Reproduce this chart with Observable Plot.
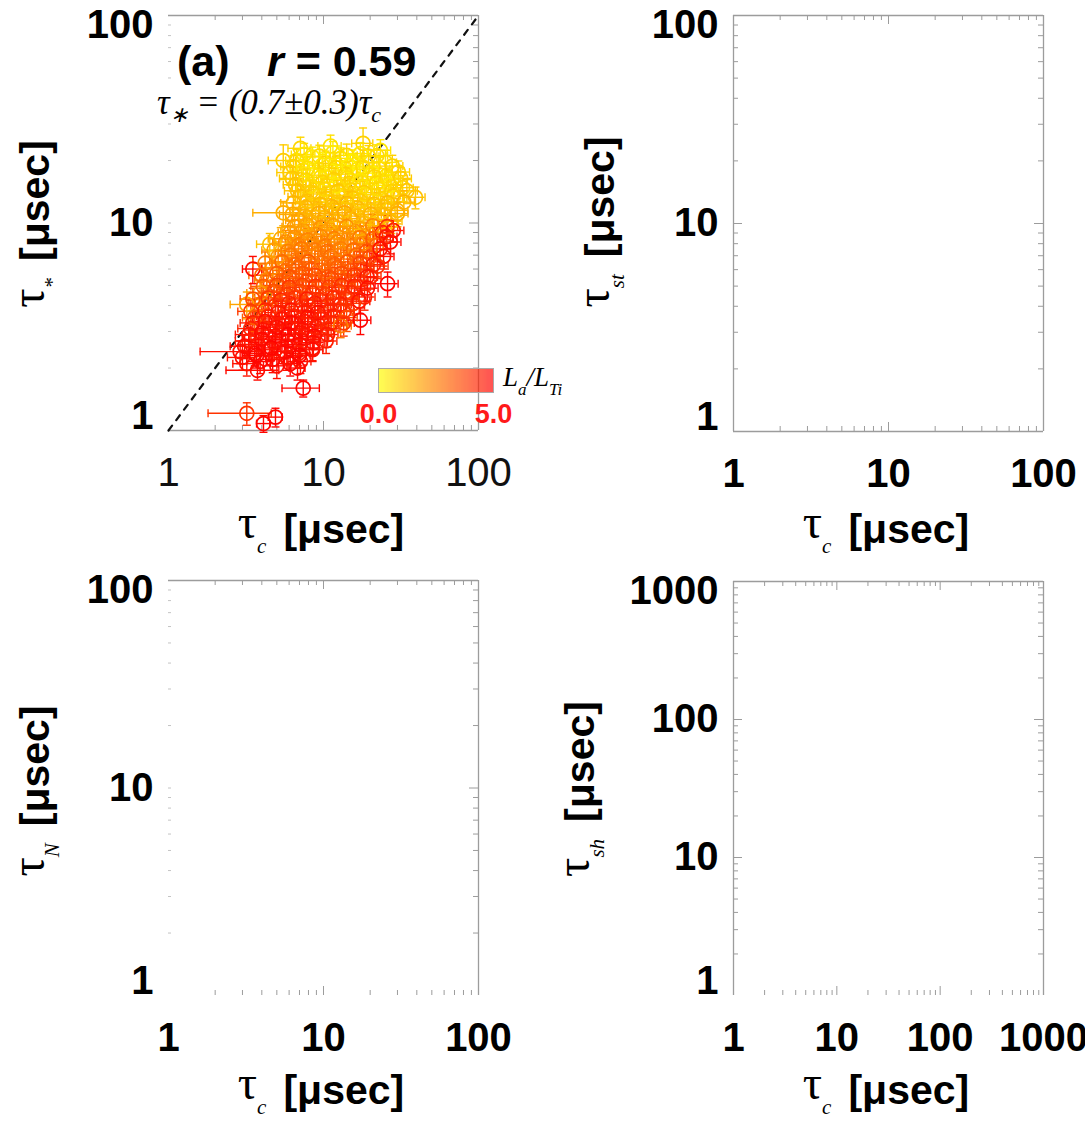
<!DOCTYPE html>
<html><head><meta charset="utf-8">
<script src="https://cdn.jsdelivr.net/npm/d3@7"></script>
<script src="https://cdn.jsdelivr.net/npm/@observablehq/plot@0.6"></script>
<style>
body{margin:0;background:#fff;}
#root{position:relative;width:1085px;height:1121px;overflow:hidden;background:#fff;font-family:"Liberation Sans",Arial,sans-serif;}
.abs{position:absolute;white-space:nowrap;line-height:1;color:#000;}
.ttl{font-weight:bold;font-size:41px;}
.tau{font-family:"Liberation Serif",serif;font-weight:normal;font-size:48px;position:relative;top:-5px;}
.sub{font-family:"Liberation Serif",serif;font-style:italic;font-weight:normal;font-size:21px;position:relative;top:10px;}
.br{margin-left:17px;}
.eq{font-family:"Liberation Serif",serif;font-style:italic;font-size:35px;}
.eq .s{font-size:22px;position:relative;top:8px;}
.lab{font-family:"Liberation Serif",serif;font-style:italic;font-size:27px;}
.lab .s{font-size:17px;position:relative;top:9px;}
</style></head>
<body><div id="root"></div>
<script>
// ---------------- data (panel a): tau_c, tau_*, L_a/L_Ti, errors ----------------
const tauC = [
7.1, 11.1, 18, 23.3, 5.5,
6.7, 8.5, 10.3, 12.9, 15.4, 19.5, 25.1,
6.1, 7.4, 9.3, 11.3, 13.9, 16.6, 20.7, 25.5, 30.4,
6.6, 8.1, 9.9, 12.1, 14.7, 17.8, 22.0, 27.0, 32.4,
7.1, 8.6, 10.4, 12.7, 15.4, 18.9, 23.3, 28.2, 39.2,
5.5, 7.7, 9.3, 11.3, 13.7, 16.6, 20.1, 24.7, 29.9,
6.9, 8.4, 10.2, 12.3, 14.9, 18.1, 22.3, 27.4,
6.1, 7.4, 9.0, 10.9, 13.3, 16.1, 19.5, 24.0, 28.2,
4.5, 5.7, 6.9, 8.4, 10.2, 12.3, 14.9, 18.1, 22.0, 27.0,
5.1, 6.2, 7.5, 9.2, 11.1, 13.5, 16.3, 19.8, 24.4,
3.5, 4.7, 5.7, 6.9, 8.4, 10.2, 12.3, 14.9, 18.1, 22.3,
4.3, 5.2, 6.3, 7.7, 9.3, 11.3, 13.7, 16.6, 20.1, 25.9,
3.9, 4.8, 5.8, 7.0, 8.5, 10.3, 12.5, 15.1, 18.4,
3.2, 4.0, 4.9, 6.0, 7.2, 8.8, 10.6, 12.9, 15.6,
3.6, 4.4, 5.4, 6.5, 7.9, 9.6, 11.6, 14.1, 17.3,
3.4, 4.1, 5.0, 6.0, 7.3, 8.9, 10.8, 12.9,
3.3, 4.0, 4.8, 5.9, 7.1, 8.6, 10.4,
2.9, 3.6, 4.5, 5.6, 6.9, 8.5,
3.2, 3.9, 5.0, 6.1, 7.1,
3.75, 6.8, 7.4, 3.2, 4.9, 4.1,
7.5, 9.4, 11.5, 14.1, 17.3, 22.1,
6.4, 7.9, 9.8, 12.0, 14.6, 18.0, 22.8, 27.8,
6.3, 7.7, 9.6, 11.7, 14.3, 17.2, 21.3, 26.2, 31.5,
6.8, 8.3, 10.1, 12.4, 15.0, 18.3, 22.6, 27.6, 34.5,
6.4, 7.9, 9.5, 11.6, 14.2, 17.2, 21.2, 26.0, 33.0,
6.3, 7.6, 9.3, 11.3, 13.7, 16.6, 20.2, 24.8, 30.0,
6.5, 7.8, 9.6, 11.6, 14.1, 17.1, 20.8, 25.7,
5.3, 6.5, 7.9, 9.6, 11.7, 14.2, 17.2, 20.9, 25.5,
4.8, 5.9, 7.2, 8.8, 10.6, 12.9, 15.6, 19.0, 23.2,
4.2, 5.4, 6.6, 8.0, 9.8, 11.8, 14.3, 17.3, 21.0,
4.0, 5.0, 6.0, 7.3, 8.8, 10.7, 13.0, 15.8, 19.1,
4.1, 5.0, 6.0, 7.3, 8.9, 10.8, 13.1, 15.8, 19.2,
3.5, 4.4, 5.3, 6.5, 7.8, 9.5, 11.5, 13.9, 17.0,
3.4, 4.2, 5.1, 6.2, 7.5, 9.2, 11.1, 13.5,
3.5, 4.2, 5.2, 6.2, 7.6, 9.2, 11.2, 13.5,
3.3, 4.0, 4.9, 5.9, 7.2, 8.7, 10.6,
3.1, 3.8, 4.6, 5.7, 7.0, 8.5,
3.0, 3.7, 4.7, 5.8, 7.0
];
const tauStar = [
22.9, 23.5, 24.2, 22.4, 20.0,
20.0, 20.8, 19.4, 20.5, 19.8, 21.0, 19.6,
17.5, 18.0, 17.0, 17.8, 17.2, 18.2, 17.4, 16.9, 17.6,
15.3, 15.0, 15.7, 15.1, 15.5, 14.9, 15.6, 15.2, 14.8,
13.4, 13.8, 13.1, 13.6, 13.2, 13.7, 13.0, 13.5, 13.3,
11.2, 11.9, 11.5, 12.0, 11.6, 11.8, 11.4, 11.9, 11.5,
10.3, 10.1, 10.6, 10.2, 10.5, 10.0, 10.4, 10.2,
9.0, 9.2, 8.8, 9.3, 8.9, 9.1, 8.8, 9.0, 9.2,
7.9, 8.1, 7.8, 8.0, 7.7, 8.1, 7.9, 8.0, 7.8, 8.1,
6.9, 7.0, 6.8, 7.1, 6.9, 6.7, 7.0, 6.8, 6.9,
6.0, 6.1, 5.9, 6.1, 6.0, 5.8, 6.1, 5.9, 6.0, 6.2,
5.3, 5.2, 5.4, 5.2, 5.3, 5.4, 5.2, 5.3, 5.5, 5.1,
4.6, 4.7, 4.5, 4.7, 4.6, 4.5, 4.7, 4.6, 4.4,
4.05, 4.1, 4.0, 4.1, 3.95, 4.1, 4.0, 4.05, 4.1,
3.5, 3.55, 3.45, 3.55, 3.5, 3.45, 3.55, 3.5, 3.4,
3.1, 3.05, 3.15, 3.1, 3.05, 3.15, 3.1, 3.2,
2.7, 2.75, 2.65, 2.7, 2.75, 2.65, 2.7,
2.4, 2.35, 2.45, 2.4, 2.35, 2.45,
2.1, 2.15, 2.05, 2.1, 2.15,
1.95, 2.0, 1.6, 1.21, 1.16, 1.08,
21.4, 21.0, 21.8, 21.2, 21.6, 21.1,
18.7, 18.4, 19.0, 18.5, 18.9, 18.6, 18.3, 18.8,
16.4, 16.1, 16.6, 16.2, 16.5, 16.0, 16.7, 16.3, 16.4,
14.3, 14.1, 14.5, 14.2, 14.4, 14.0, 14.6, 14.2, 14.3,
12.5, 12.7, 12.3, 12.6, 12.4, 12.8, 12.3, 12.5, 12.6,
11.0, 10.8, 11.1, 10.9, 11.2, 10.8, 11.0, 10.9, 11.1,
9.6, 9.8, 9.5, 9.7, 9.6, 9.4, 9.7, 9.6,
8.4, 8.5, 8.3, 8.6, 8.4, 8.3, 8.5, 8.4, 8.6,
7.4, 7.3, 7.5, 7.4, 7.3, 7.5, 7.4, 7.3, 7.5,
6.4, 6.5, 6.3, 6.5, 6.4, 6.3, 6.5, 6.4, 6.3,
5.6, 5.7, 5.5, 5.7, 5.6, 5.5, 5.7, 5.6, 5.5,
4.95, 5.0, 4.9, 5.0, 4.95, 4.9, 5.0, 4.95, 4.85,
4.3, 4.35, 4.25, 4.35, 4.3, 4.25, 4.35, 4.3, 4.2,
3.75, 3.8, 3.7, 3.8, 3.75, 3.7, 3.8, 3.75,
3.3, 3.35, 3.25, 3.3, 3.35, 3.25, 3.3, 3.3,
2.9, 2.95, 2.85, 2.9, 2.95, 2.85, 2.9,
2.55, 2.6, 2.5, 2.55, 2.6, 2.5,
2.25, 2.3, 2.2, 2.25, 2.3
];
const ratio = [
0.8, 0.6, 0.9, 0.5, 1.0,
0.7, 0.4, 0.9, 0.6, 0.3, 0.8, 0.6,
1.0, 0.5, 0.8, 0.4, 0.9, 0.6, 0.3, 0.7, 0.8,
1.2, 0.7, 0.9, 0.5, 1.0, 0.6, 0.8, 0.4, 0.9,
1.3, 1.0, 1.1, 0.8, 1.2, 0.7, 0.9, 1.0, 1.2,
1.6, 1.4, 1.2, 1.5, 1.1, 1.3, 1.0, 1.2, 1.4,
1.8, 1.5, 1.7, 1.4, 1.6, 1.3, 1.5, 1.2,
1.9, 2.0, 2.2, 1.8, 2.0, 2.1, 1.9, 4.2, 4.6,
1.2, 2.3, 2.5, 2.2, 2.6, 2.4, 2.2, 2.5, 3.0, 4.8,
2.0, 2.6, 2.8, 2.5, 2.9, 2.7, 3.0, 3.5, 4.7,
4.8, 2.2, 2.8, 3.0, 3.2, 2.9, 3.1, 3.3, 3.6, 4.0,
2.4, 3.0, 3.2, 3.5, 3.3, 3.6, 3.4, 3.8, 4.2, 4.9,
2.0, 3.4, 3.8, 3.6, 4.0, 3.7, 3.9, 4.1, 4.3,
1.8, 3.0, 4.0, 4.3, 4.1, 4.5, 4.2, 4.4, 3.8,
3.2, 4.2, 4.6, 4.4, 4.7, 4.3, 4.5, 3.5, 4.9,
4.3, 4.6, 4.8, 4.5, 4.7, 4.4, 4.2, 2.6,
4.5, 4.8, 4.6, 4.9, 4.5, 4.7, 4.4,
4.7, 4.9, 4.6, 4.8, 4.5, 4.7,
4.6, 4.8, 4.7, 4.9, 4.6,
4.8, 4.9, 4.9, 4.0, 4.9, 4.9,
0.5, 0.7, 0.4, 0.8, 0.5, 0.7,
0.9, 0.6, 0.5, 0.8, 0.4, 0.7, 0.6, 0.9,
1.1, 0.8, 0.6, 0.9, 0.7, 0.5, 0.8, 0.6, 1.0,
1.2, 1.0, 0.8, 1.1, 0.9, 1.0, 0.7, 0.9, 1.1,
1.5, 1.2, 1.3, 1.1, 1.4, 1.0, 1.2, 1.3, 1.5,
1.7, 1.5, 1.6, 1.4, 1.7, 1.3, 1.5, 1.4, 1.6,
2.0, 1.8, 2.1, 1.9, 2.2, 1.7, 2.4, 3.8,
1.6, 2.2, 2.4, 2.3, 2.5, 2.2, 2.6, 3.2, 4.5,
1.9, 2.5, 2.7, 2.6, 2.8, 2.5, 2.9, 3.4, 4.6,
2.6, 2.9, 3.0, 3.2, 2.8, 3.1, 3.3, 3.7, 4.4,
2.8, 3.2, 3.4, 3.3, 3.6, 3.4, 3.5, 3.9, 4.5,
3.2, 3.6, 3.9, 3.7, 4.0, 3.8, 4.1, 4.3, 4.7,
3.5, 3.9, 4.2, 4.0, 4.4, 4.1, 4.3, 4.0, 4.6,
3.8, 4.3, 4.5, 4.6, 4.4, 4.7, 4.3, 4.1,
4.4, 4.7, 4.5, 4.8, 4.6, 4.5, 4.3, 3.9,
4.6, 4.8, 4.7, 4.9, 4.6, 4.8, 4.5,
4.8, 4.6, 4.9, 4.7, 4.8, 4.6,
4.7, 4.9, 4.8, 4.6, 4.9
];
const errC = [
1.2, 1.9, 2.8, 3.8, 1.1,
1.0, 1.4, 1.8, 2.0, 2.7, 3.3, 4.5,
1.1, 1.3, 1.5, 1.9, 2.4, 2.8, 3.4, 4.3, 5.5,
1.1, 1.4, 1.7, 2.1, 2.5, 3.0, 3.7, 4.6, 5.5,
1.2, 1.5, 1.8, 2.2, 2.6, 3.2, 4.0, 4.8, 6.0,
2.0, 1.3, 1.6, 1.9, 2.3, 2.8, 3.4, 4.2, 5.1,
1.2, 1.4, 1.7, 2.1, 2.5, 3.1, 3.8, 4.7,
1.0, 1.3, 1.5, 1.9, 2.3, 2.7, 3.3, 4.1, 4.8,
0.8, 1.0, 1.2, 1.4, 1.7, 2.1, 2.5, 3.1, 3.7, 4.6,
0.9, 1.1, 1.3, 1.6, 1.9, 2.3, 2.8, 3.4, 4.1,
0.5, 0.8, 1.0, 1.2, 1.4, 1.7, 2.1, 2.5, 3.1, 3.8,
0.7, 0.9, 1.1, 1.3, 1.6, 1.9, 2.3, 2.8, 3.4, 4.4,
0.7, 0.8, 1.0, 1.2, 1.4, 1.8, 2.1, 2.6, 3.1,
0.7, 0.7, 0.8, 1.0, 1.2, 1.5, 1.8, 2.2, 2.7,
0.6, 0.7, 0.9, 1.1, 1.3, 1.6, 2.0, 2.4, 2.9,
0.6, 0.7, 0.9, 1.0, 1.2, 1.5, 1.8, 2.2,
0.6, 0.7, 0.8, 1.0, 1.2, 1.5, 1.8,
1.3, 0.6, 0.8, 1.0, 1.2, 1.4,
0.6, 0.7, 0.9, 1.0, 1.2,
1.4, 0.8, 2.0, 1.4, 0.5, 0.4,
1.3, 1.6, 2.0, 2.4, 2.9, 3.8,
1.1, 1.3, 1.7, 2.0, 2.5, 3.1, 3.9, 4.7,
1.1, 1.3, 1.6, 2.0, 2.4, 2.9, 3.6, 4.5, 5.4,
1.2, 1.4, 1.7, 2.1, 2.6, 3.1, 3.8, 4.7, 5.8,
1.1, 1.3, 1.6, 2.0, 2.4, 2.9, 3.6, 4.4, 5.6,
1.1, 1.3, 1.6, 1.9, 2.3, 2.8, 3.4, 4.2, 5.1,
1.1, 1.3, 1.6, 2.0, 2.4, 2.9, 3.5, 4.4,
0.9, 1.1, 1.3, 1.6, 2.0, 2.4, 2.9, 3.6, 4.3,
0.8, 1.0, 1.2, 1.5, 1.8, 2.2, 2.7, 3.2, 3.9,
0.7, 0.9, 1.1, 1.4, 1.7, 2.0, 2.4, 2.9, 3.6,
0.7, 0.9, 1.0, 1.2, 1.5, 1.8, 2.2, 2.7, 3.2,
0.7, 0.9, 1.0, 1.2, 1.5, 1.8, 2.2, 2.7, 3.3,
0.6, 0.8, 0.9, 1.1, 1.3, 1.6, 2.0, 2.4, 2.9,
0.6, 0.7, 0.9, 1.1, 1.3, 1.6, 1.9, 2.3,
0.6, 0.7, 0.9, 1.1, 1.3, 1.6, 1.9, 2.3,
0.6, 0.7, 0.8, 1.0, 1.2, 1.5, 1.8,
0.6, 0.7, 0.8, 1.0, 1.2, 1.4,
0.6, 0.7, 0.8, 1.0, 1.2
];
const errStar = [
3.0, 3.0, 4.5, 2.8, 3.8,
2.6, 2.4, 2.8, 2.5, 2.7, 2.6, 2.8,
2.3, 2.2, 2.4, 2.1, 2.3, 2.4, 2.2, 2.5, 2.3,
2.0, 1.9, 2.1, 2.0, 1.9, 2.1, 2.0, 1.9, 2.1,
1.8, 1.7, 1.8, 1.7, 1.8, 1.7, 1.8, 1.7, 1.6,
1.5, 1.5, 1.6, 1.5, 1.6, 1.5, 1.6, 1.5, 1.6,
1.4, 1.3, 1.4, 1.3, 1.4, 1.3, 1.4, 1.3,
1.2, 1.2, 1.1, 1.2, 1.2, 1.1, 1.2, 1.2, 1.1,
1.0, 1.1, 1.0, 1.1, 1.0, 1.1, 1.0, 1.1, 1.0, 1.0,
0.9, 0.9, 0.9, 0.9, 0.9, 0.9, 0.9, 0.9, 0.9,
0.9, 0.8, 0.8, 0.8, 0.8, 0.8, 0.8, 0.8, 0.8, 0.8,
0.7, 0.7, 0.7, 0.7, 0.7, 0.7, 0.7, 0.7, 0.7, 0.7,
0.6, 0.6, 0.6, 0.6, 0.6, 0.6, 0.6, 0.6, 0.6,
0.6, 0.5, 0.5, 0.5, 0.5, 0.5, 0.5, 0.5, 0.5,
0.5, 0.5, 0.5, 0.5, 0.5, 0.5, 0.5, 0.5, 0.5,
0.4, 0.4, 0.4, 0.4, 0.4, 0.4, 0.4, 0.4,
0.35, 0.35, 0.35, 0.35, 0.35, 0.35, 0.35,
0.3, 0.3, 0.3, 0.3, 0.3, 0.3,
0.27, 0.27, 0.27, 0.27, 0.27,
0.2, 0.25, 0.15, 0.15, 0.12, 0.1,
2.8, 2.7, 2.9, 2.8, 2.8, 2.7,
2.4, 2.4, 2.4, 2.4, 2.4, 2.4, 2.4, 2.4,
2.1, 2.1, 2.1, 2.1, 2.1, 2.1, 2.1, 2.1, 2.1,
1.9, 1.9, 1.9, 1.9, 1.9, 1.9, 1.9, 1.9, 1.9,
1.7, 1.7, 1.7, 1.7, 1.7, 1.7, 1.7, 1.7, 1.7,
1.5, 1.5, 1.5, 1.5, 1.5, 1.5, 1.5, 1.5, 1.5,
1.3, 1.3, 1.3, 1.3, 1.3, 1.3, 1.3, 1.3,
1.1, 1.1, 1.1, 1.1, 1.1, 1.1, 1.1, 1.1, 1.1,
1.0, 1.0, 1.0, 1.0, 1.0, 1.0, 1.0, 1.0, 1.0,
0.85, 0.85, 0.85, 0.85, 0.85, 0.85, 0.85, 0.85, 0.85,
0.75, 0.75, 0.75, 0.75, 0.75, 0.75, 0.75, 0.75, 0.75,
0.65, 0.65, 0.65, 0.65, 0.65, 0.65, 0.65, 0.65, 0.65,
0.55, 0.55, 0.55, 0.55, 0.55, 0.55, 0.55, 0.55, 0.55,
0.5, 0.5, 0.5, 0.5, 0.5, 0.5, 0.5, 0.5,
0.45, 0.45, 0.45, 0.45, 0.45, 0.45, 0.45, 0.45,
0.38, 0.38, 0.38, 0.38, 0.38, 0.38, 0.38,
0.33, 0.33, 0.33, 0.33, 0.33, 0.33,
0.3, 0.3, 0.3, 0.3, 0.3
];
// axes
const majorTicks2 = [1, 10, 100];
const majorTicks3 = [1, 10, 100, 1000];
const minorTicks2 = [2,3,4,5,6,7,8,9,20,30,40,50,60,70,80,90];
const minorTicks3 = [2,3,4,5,6,7,8,9,20,30,40,50,60,70,80,90,200,300,400,500,600,700,800,900];
const diagonal = [1, 100];
const ratioDomain = [0, 5];
const ratioTicks = [0, 5];
const colorRange = ["#ffff00", "#ff0000"];

const points = tauC.map((x, i) => ({x, y: tauStar[i], c: ratio[i], ex: errC[i], ey: errStar[i]}));

const root = document.getElementById("root");
const gray = "#9c9c9c";

const capV = {draw(ctx, size) { const r = Math.sqrt(size / Math.PI); ctx.moveTo(0, -r); ctx.lineTo(0, r); }};
const capH = {draw(ctx, size) { const r = Math.sqrt(size / Math.PI); ctx.moveTo(-r, 0); ctx.lineTo(r, 0); }};

function panel(cfg) {
  const fw = cfg.width - cfg.mL - cfg.mR, fh = cfg.height - cfg.mT - cfg.mB;
  const xMaj = cfg.xMajor, yMaj = cfg.yMajor;
  const xIn = xMaj.slice(1, -1), yIn = yMaj.slice(1, -1);
  const marks = [];
  marks.push(Plot.tickX(cfg.xMinor, {x: d => d, stroke: gray, insetTop: fh - 5}));
  marks.push(Plot.tickX(xIn, {x: d => d, stroke: gray, insetTop: fh - 9}));
  marks.push(Plot.tickX(cfg.xMinor, {x: d => d, stroke: gray, insetBottom: fh - 5}));
  marks.push(Plot.tickX(xIn, {x: d => d, stroke: gray, insetBottom: fh - 9}));
  const lc = cfg.sides.left ? gray : "#c4c4c4";
  marks.push(Plot.tickY(cfg.yMinor, {y: d => d, stroke: lc, insetRight: fw - (cfg.sides.left ? 5 : 3)}));
  marks.push(Plot.tickY(yIn, {y: d => d, stroke: lc, insetRight: fw - (cfg.sides.left ? 9 : 3)}));
  marks.push(Plot.tickY(cfg.yMinor, {y: d => d, stroke: gray, insetLeft: fw - 5}));
  marks.push(Plot.tickY(yIn, {y: d => d, stroke: gray, insetLeft: fw - 9}));
  const xD = cfg.xDomain, yD = cfg.yDomain;
  if (cfg.sides.top) marks.push(Plot.ruleY([yD[1]], {y: d => d, stroke: gray, strokeWidth: 1.3}));
  if (cfg.sides.bottom) marks.push(Plot.ruleY([yD[0]], {y: d => d, stroke: gray, strokeWidth: 1.3}));
  if (cfg.sides.left) marks.push(Plot.ruleX([xD[0]], {x: d => d, stroke: gray, strokeWidth: 1.3}));
  if (cfg.sides.right) marks.push(Plot.ruleX([xD[1]], {x: d => d, stroke: gray, strokeWidth: 1.3}));
  marks.push(...(cfg.marks || []));
  const yOpts = {anchor: "left", tickSize: 0, tickPadding: 15, label: null, tickFormat: d => String(d), fontWeight: "bold", fontSize: 40};
  marks.push(Plot.axisY([yMaj[yMaj.length - 1]], {...yOpts, dy: 10}));
  marks.push(Plot.axisY(yIn, yOpts));
  marks.push(Plot.axisY([yMaj[0]], {...yOpts, dy: -14}));
  marks.push(Plot.axisX(xMaj, {anchor: "bottom", tickSize: 0, tickPadding: 27, label: null, tickFormat: d => String(d),
    fontWeight: cfg.xBold ? "bold" : "normal", fontSize: 40, fill: cfg.xBold ? "#000" : "#111"}));
  const svg = Plot.plot({
    width: cfg.width, height: cfg.height,
    marginLeft: cfg.mL, marginRight: cfg.mR, marginTop: cfg.mT, marginBottom: cfg.mB,
    x: {type: "log", domain: xD, axis: null},
    y: {type: "log", domain: yD, axis: null},
    color: {type: "linear", domain: ratioDomain, range: colorRange},
    style: {background: "transparent", fontFamily: "'Liberation Sans', Arial, sans-serif", fontSize: "40px", color: "#000", overflow: "visible"},
    marks
  });
  svg.style.position = "absolute";
  svg.style.left = cfg.left + "px";
  svg.style.top = cfg.top + "px";
  root.appendChild(svg);
}

const sw = 1.4;
const scatterMarks = [
  Plot.line(diagonal, {x: d => d, y: d => d, stroke: "#111", strokeWidth: 2.2, strokeDasharray: "6,7"}),
  Plot.ruleY(points, {y: "y", x1: d => d.x - d.ex, x2: d => d.x + d.ex, stroke: "c", strokeWidth: sw}),
  Plot.ruleX(points, {x: "x", y1: d => d.y - d.ey, y2: d => d.y + d.ey, stroke: "c", strokeWidth: sw}),
  Plot.dot(points, {x: d => d.x - d.ex, y: "y", symbol: capV, r: 4, stroke: "c", strokeWidth: sw}),
  Plot.dot(points, {x: d => d.x + d.ex, y: "y", symbol: capV, r: 4, stroke: "c", strokeWidth: sw}),
  Plot.dot(points, {x: "x", y: d => d.y - d.ey, symbol: capH, r: 4, stroke: "c", strokeWidth: sw}),
  Plot.dot(points, {x: "x", y: d => d.y + d.ey, symbol: capH, r: 4, stroke: "c", strokeWidth: sw}),
  Plot.dot(points, {x: "x", y: "y", r: 7, stroke: "c", fill: "none", strokeWidth: 1.7})
];

panel({left: 0, top: 0, width: 540, height: 560, mL: 168, mR: 62, mT: 15, mB: 130,
  xDomain: [1, 100], yDomain: [1, 100], xMajor: majorTicks2, yMajor: majorTicks2, xMinor: minorTicks2, yMinor: minorTicks2,
  sides: {top: true, right: true, bottom: true, left: false}, xBold: false, marks: scatterMarks});
panel({left: 545, top: 0, width: 540, height: 560, mL: 188, mR: 42, mT: 15, mB: 129,
  xDomain: [1, 100], yDomain: [1, 100], xMajor: majorTicks2, yMajor: majorTicks2, xMinor: minorTicks2, yMinor: minorTicks2,
  sides: {top: true, right: true, bottom: true, left: true}, xBold: true});
panel({left: 0, top: 560, width: 540, height: 561, mL: 168, mR: 62, mT: 20, mB: 126,
  xDomain: [1, 100], yDomain: [1, 100], xMajor: majorTicks2, yMajor: majorTicks2, xMinor: minorTicks2, yMinor: minorTicks2,
  sides: {top: true, right: true, bottom: false, left: false}, xBold: true});
panel({left: 545, top: 560, width: 540, height: 561, mL: 188, mR: 42, mT: 21, mB: 126,
  xDomain: [1, 1000], yDomain: [1, 1000], xMajor: majorTicks3, yMajor: majorTicks3, xMinor: minorTicks3, yMinor: minorTicks3,
  sides: {top: true, right: true, bottom: false, left: true}, xBold: true});

// colorbar legend for L_a/L_Ti
const cbStep = 0.05;
const cbSteps = d3.range(ratioDomain[0], ratioDomain[1], cbStep);
const cb = Plot.plot({
  width: 175, height: 70, marginLeft: 30, marginRight: 30, marginTop: 10, marginBottom: 36,
  x: {domain: ratioDomain, axis: null},
  color: {type: "linear", domain: ratioDomain, range: colorRange},
  style: {background: "transparent", fontFamily: "'Liberation Sans', Arial, sans-serif", color: "#ff1a1a", overflow: "visible"},
  marks: [
    Plot.rect(cbSteps, {x1: d => d, x2: d => d + cbStep, fill: d => d + cbStep / 2, fillOpacity: 0.68, shapeRendering: "crispEdges"}),
    Plot.frame({stroke: "#aaa"}),
    Plot.axisX(ratioTicks, {anchor: "bottom", tickSize: 0, tickPadding: 11, label: null, tickFormat: d => d.toFixed(1), fontSize: 27, fontWeight: "bold"})
  ]
});
cb.style.position = "absolute"; cb.style.left = "348px"; cb.style.top = "358px";
root.appendChild(cb);

// ---------------- text overlays ----------------
function addDiv(cls, html, left, top, transform) {
  const d = document.createElement("div");
  d.className = "abs " + cls;
  d.innerHTML = html;
  d.style.left = left + "px"; d.style.top = top + "px";
  if (transform) d.style.transform = transform;
  root.appendChild(d);
  return d;
}
function axTitle(sub, cx, cy, rotate) {
  const html = `<span class="tau">τ</span><span class="sub">${sub}</span><span class="br">[μsec]</span>`;
  addDiv("ttl", html, cx, cy, "translate(-50%,-50%)" + (rotate ? " rotate(-90deg)" : ""));
}
axTitle("c", 321, 527, false);
axTitle("c", 886, 527, false);
axTitle("c", 321, 1088, false);
axTitle("c", 886, 1088, false);
axTitle("*", 33, 224, true);
axTitle("st", 598, 222, true);
axTitle("N", 33, 791, true);
axTitle("sh", 578, 789, true);

addDiv("ttl", "(a)", 177, 40).style.fontSize = "43px";
addDiv("ttl", "<i>r</i> = 0.59", 267, 40).style.fontSize = "43px";
addDiv("eq", 'τ<span class="s">∗</span> = (0.7±0.3)τ<span class="s">c</span>', 157, 85);
addDiv("lab", 'L<span class="s">a</span>/L<span class="s">Ti</span>', 503, 364);
</script></body></html>
